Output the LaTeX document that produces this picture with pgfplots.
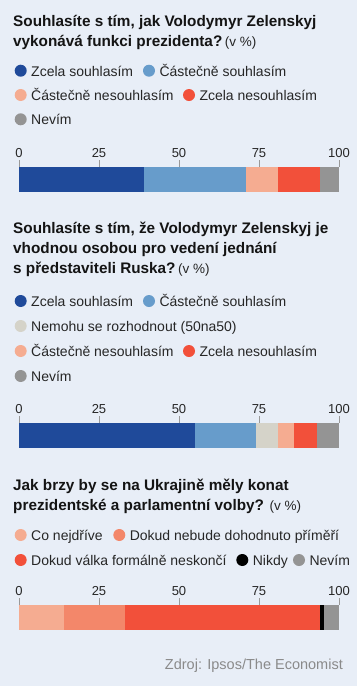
\documentclass[border=0pt]{standalone}
\usepackage{fontspec}
\setmainfont{Liberation Sans}
\usepackage{pgfplots}
\pgfplotsset{compat=1.18}
\definecolor{bg}{HTML}{E8EEF7}
\definecolor{cA}{HTML}{1F4A9A}
\definecolor{cB}{HTML}{679CCB}
\definecolor{cC}{HTML}{D5D3C9}
\definecolor{cD}{HTML}{F5AC91}
\definecolor{cE}{HTML}{F2503A}
\definecolor{cF}{HTML}{949494}
\definecolor{cG}{HTML}{F3876A}
\definecolor{ttl}{HTML}{141414}
\definecolor{txt}{HTML}{262626}
\definecolor{src}{HTML}{8A8A8A}
\pgfplotsset{
  barax/.style={
    xbar stacked, scale only axis, width=320pt, height=25pt, bar width=25pt,
    xmin=0, xmax=100, ymin=0, ymax=1,
    axis x line*=top, axis y line=none,
    x axis line style={draw=none},
    tick align=outside, major tick length=7pt,
    xtick={0,25,50,75,100},
    every tick/.style={draw=gray!80, line width=0.7pt},
    xticklabel style={font=\fontsize{13}{13}\selectfont, text=txt, inner sep=2pt},
    /pgf/number format/assume math mode=true,
    anchor=south west,
  }
}
\newcommand{\ttlfont}{\fontsize{15.3}{18}\selectfont\bfseries\color{ttl}}
\newcommand{\vpct}{{\normalfont\fontsize{13.5}{13.5}\selectfont\color{txt}(v~\%)}}
\newcommand{\legitem}[4]{% x circle, y center, color, text
  \fill[#3] (#1pt,-#2pt) circle (6pt);
  \node[anchor=base west, inner sep=0pt, font=\fontsize{14}{14}\selectfont, text=txt] at (#1pt+10.3pt,-#2pt-5.3pt) {#4};
}
\begin{document}
\begin{tikzpicture}
\fill[bg] (0pt,0pt) rectangle (357pt,-686pt);
% ---------- Chart 1
\node[anchor=base west, inner sep=0pt, font=\ttlfont] at (13pt,-26.7pt) {Souhlasíte s tím, jak Volodymyr Zelenskyj};
\node[anchor=base west, inner sep=0pt, font=\ttlfont] at (13pt,-46.7pt) {vykonává funkci prezidenta?\,\vpct};
\legitem{20.7}{70.7}{cA}{Zcela souhlasím}
\legitem{149}{70.7}{cB}{Částečně souhlasím}
\legitem{20.7}{95}{cD}{Částečně nesouhlasím}
\legitem{189}{95}{cE}{Zcela nesouhlasím}
\legitem{20.7}{119.3}{cF}{Nevím}
\begin{axis}[barax, at={(19pt,-192pt)}]
\addplot[fill=cA, draw=none] coordinates {(39,0.5)};
\addplot[fill=cB, draw=none] coordinates {(32,0.5)};
\addplot[fill=cD, draw=none] coordinates {(10,0.5)};
\addplot[fill=cE, draw=none] coordinates {(13,0.5)};
\addplot[fill=cF, draw=none] coordinates {(6,0.5)};
\end{axis}
% ---------- Chart 2
\node[anchor=base west, inner sep=0pt, font=\ttlfont] at (13pt,-233.3pt) {Souhlasíte s tím, že Volodymyr Zelenskyj je};
\node[anchor=base west, inner sep=0pt, font=\ttlfont] at (13pt,-253.3pt) {vhodnou osobou pro vedení jednání};
\node[anchor=base west, inner sep=0pt, font=\ttlfont] at (13pt,-273.3pt) {s představiteli Ruska?\,\vpct};
\legitem{20.7}{301}{cA}{Zcela souhlasím}
\legitem{149}{301}{cB}{Částečně souhlasím}
\legitem{20.7}{326}{cC}{Nemohu se rozhodnout (50na50)}
\legitem{20.7}{351}{cD}{Částečně nesouhlasím}
\legitem{189}{351}{cE}{Zcela nesouhlasím}
\legitem{20.7}{376}{cF}{Nevím}
\begin{axis}[barax, at={(19pt,-448pt)}]
\addplot[fill=cA, draw=none] coordinates {(55,0.5)};
\addplot[fill=cB, draw=none] coordinates {(19,0.5)};
\addplot[fill=cC, draw=none] coordinates {(7,0.5)};
\addplot[fill=cD, draw=none] coordinates {(5,0.5)};
\addplot[fill=cE, draw=none] coordinates {(7,0.5)};
\addplot[fill=cF, draw=none] coordinates {(7,0.5)};
\end{axis}
% ---------- Chart 3
\node[anchor=base west, inner sep=0pt, font=\ttlfont] at (13pt,-490pt) {Jak brzy by se na Ukrajině měly konat};
\node[anchor=base west, inner sep=0pt, font=\ttlfont] at (13pt,-510pt) {prezidentské a parlamentní volby? \vpct};
\legitem{20.7}{535}{cD}{Co nejdříve}
\legitem{119.3}{535}{cG}{Dokud nebude dohodnuto příměří}
\legitem{20.7}{560}{cE}{Dokud válka formálně neskončí}
\legitem{242.3}{560}{black}{Nikdy}
\legitem{299}{560}{cF}{Nevím}
\begin{axis}[barax, at={(19pt,-630pt)}]
\addplot[fill=cD, draw=none] coordinates {(14,0.5)};
\addplot[fill=cG, draw=none] coordinates {(19,0.5)};
\addplot[fill=cE, draw=none] coordinates {(61,0.5)};
\addplot[fill=black, draw=none] coordinates {(1.3,0.5)};
\addplot[fill=cF, draw=none] coordinates {(4.7,0.5)};
\end{axis}
\node[anchor=base east, inner sep=0pt, font=\fontsize{14.5}{14.5}\selectfont, text=src] at (343pt,-669pt) {Zdroj: Ipsos/The Economist};
\end{tikzpicture}
\end{document}
